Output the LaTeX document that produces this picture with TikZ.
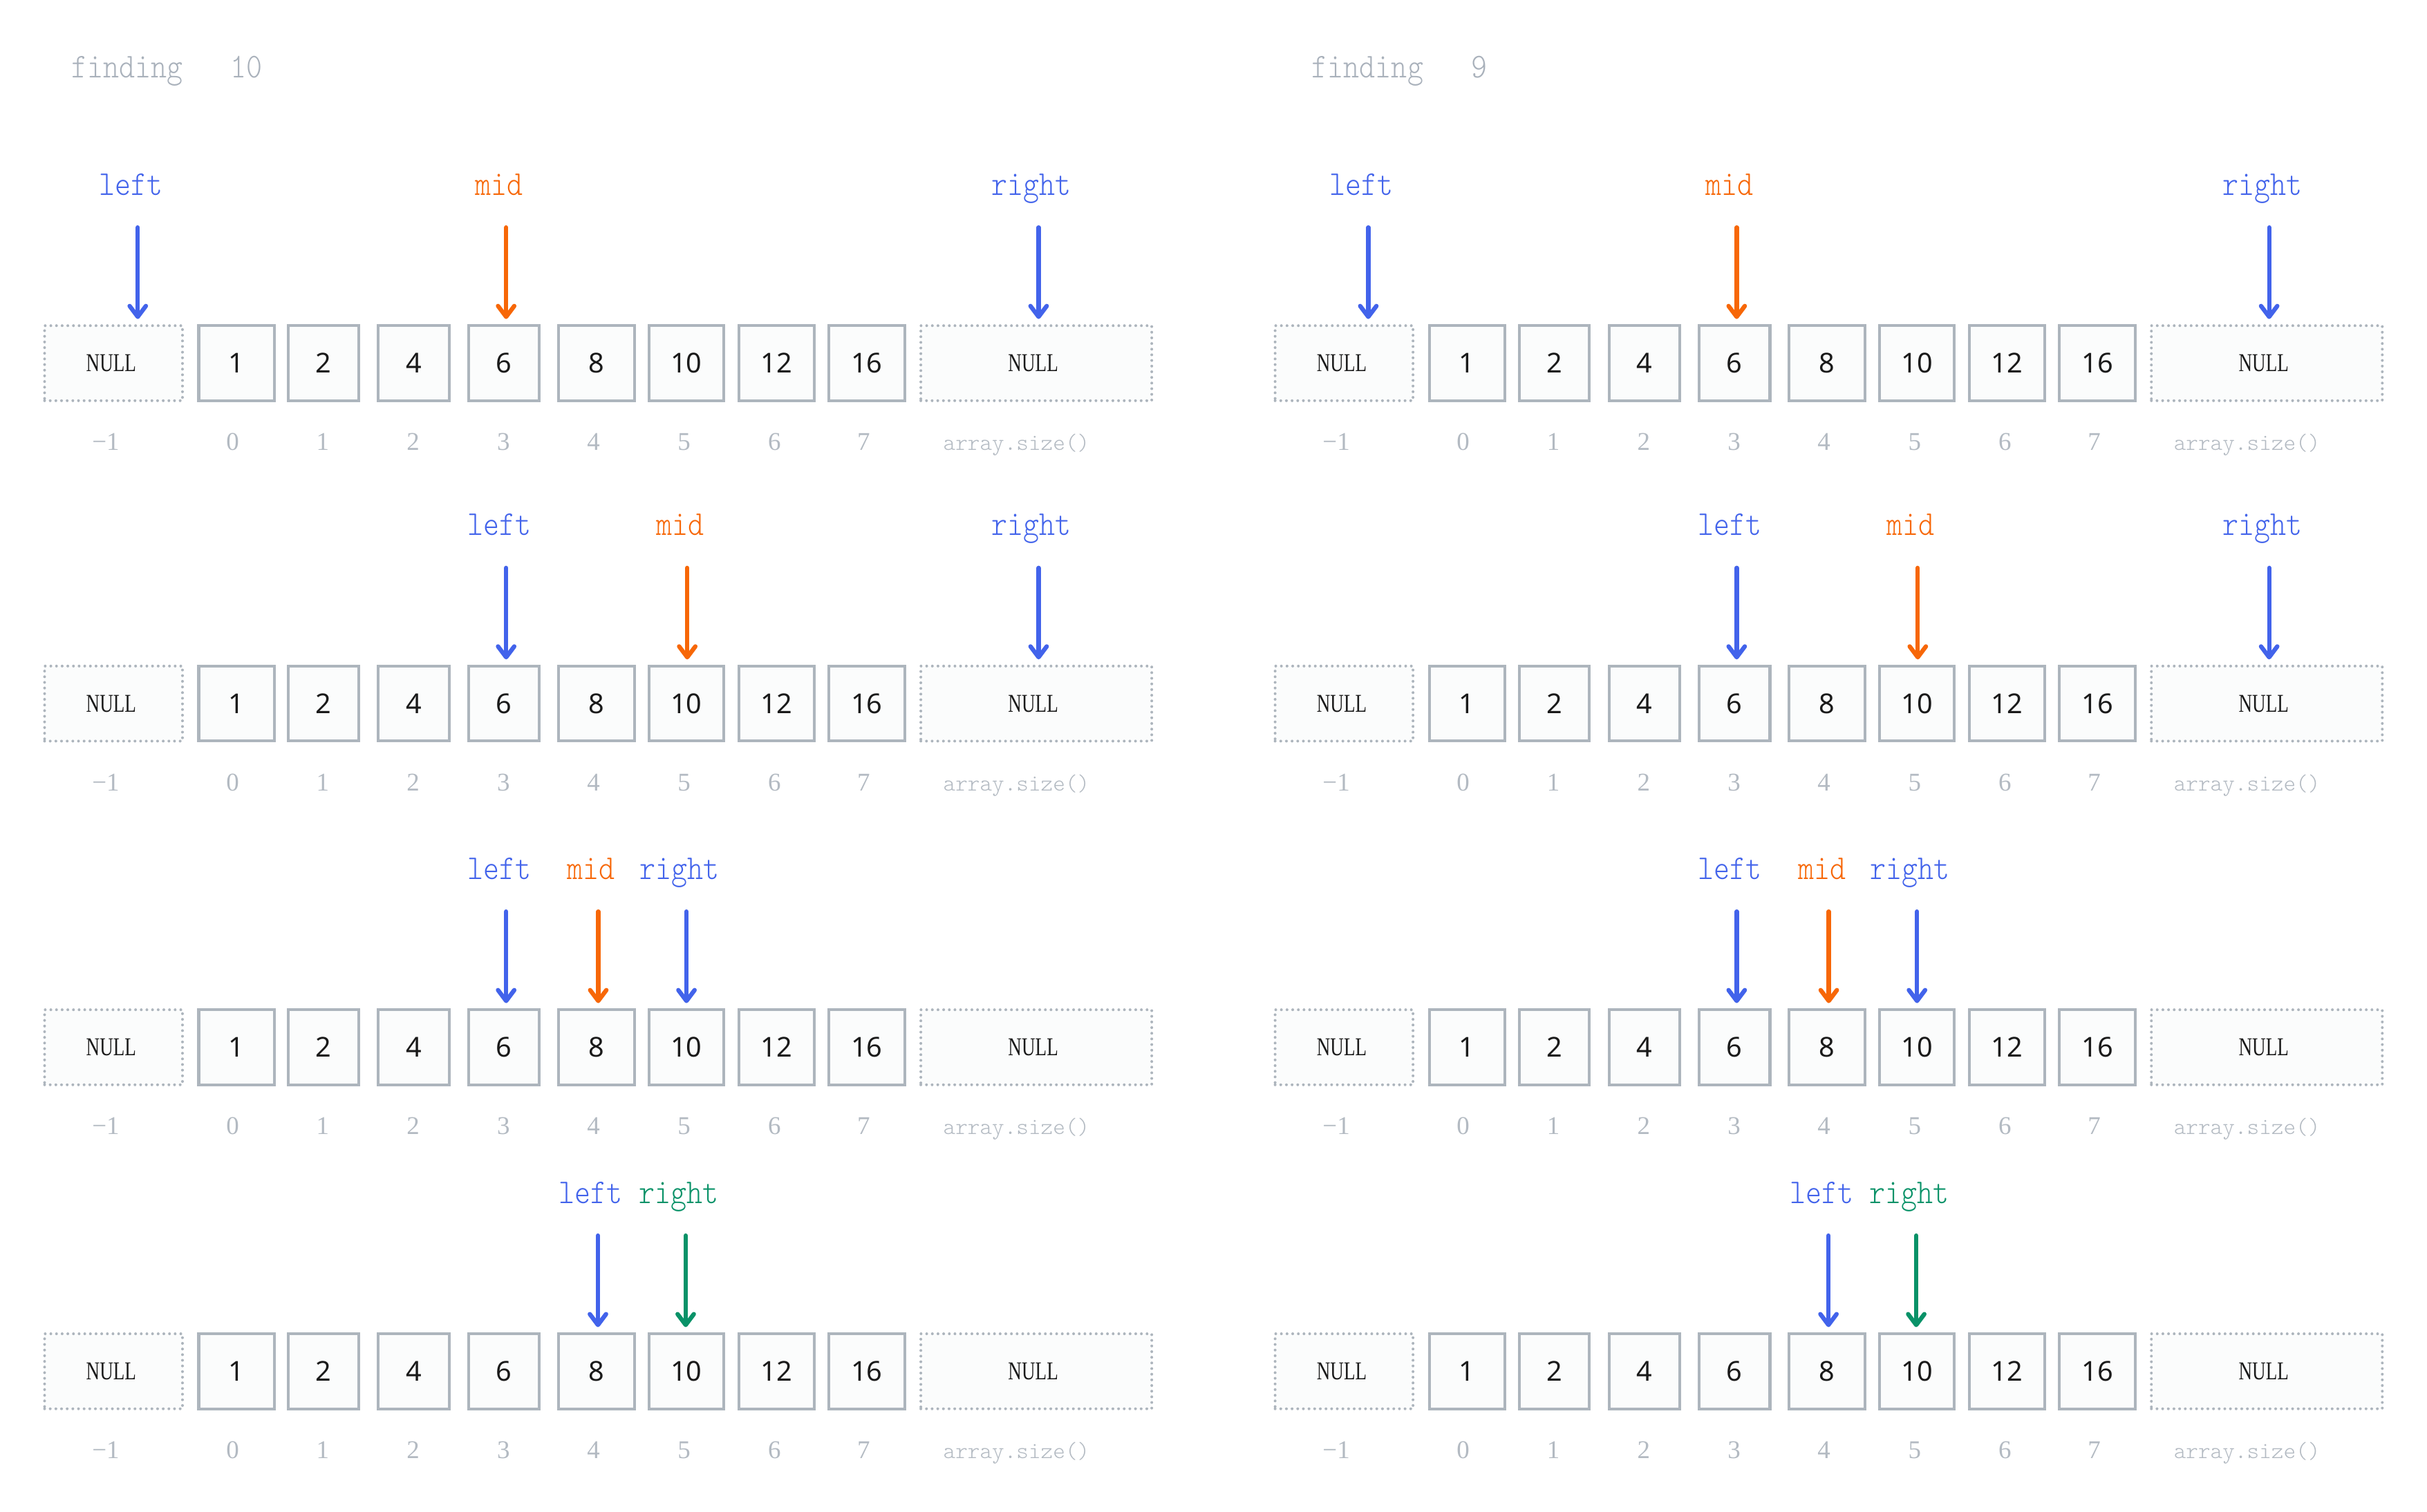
\documentclass[tikz,border=0pt]{standalone}
\usepackage{fontspec}
\usetikzlibrary{arrows.meta}
\newfontfamily\lblfnt{lmmonolt10-regular.otf}[FakeStretch=0.87]
\newfontfamily\szfnt{lmmonolt10-regular.otf}
\newfontfamily\cellfnt{Noto Sans}
\newfontfamily\nulfnt{Liberation Serif}[FakeStretch=0.73]
\newfontfamily\idxfnt{Liberation Serif}
\definecolor{gr}{HTML}{ADB5BD}
\definecolor{idxc}{HTML}{B3BAC2}
\definecolor{ttl}{HTML}{A9B1BB}
\definecolor{cellfill}{HTML}{FBFCFC}
\definecolor{bl}{HTML}{4263EB}
\definecolor{og}{HTML}{F76707}
\definecolor{gn}{HTML}{099268}
\definecolor{ink}{HTML}{1A1A1A}
\tikzset{
  cellbox/.style={draw=gr, line width=1.8pt, fill=cellfill, minimum height=48.5pt, inner sep=0pt,
    text=ink, font=\fontsize{17.7}{20}\cellfnt},
  nullbox/.style={draw=gr, line width=1.8pt, dash pattern=on 0pt off 3.65pt, line cap=round,
    fill=cellfill, minimum height=48.5pt, inner sep=0pt, text=ink, font=\fontsize{16.6}{18}\nulfnt},
  idx/.style={anchor=base, inner sep=0pt, text=idxc, font=\fontsize{16.5}{18}\idxfnt},
  szlbl/.style={anchor=base, inner sep=0pt, text=idxc, font=\fontsize{15}{17}\szfnt},
  lbl/.style={anchor=base, inner sep=0pt, font=\fontsize{22.5}{24}\lblfnt},
  ttlstyle/.style={anchor=base west, inner sep=0pt, text=ttl, font=\fontsize{22.5}{24}\lblfnt},
  ptr/.style={line width=2.8pt, line cap=round, -{Straight Barb[round, length=7pt, width=10.5pt]}}
}
% one array row, drawn relative to its top edge
\newcommand\arrayrow[1]{%
  \node[nullbox, minimum width=89.1pt] (#1n0) at (73.35,25.2) {\hspace*{-3pt}NULL};
  \foreach \cx/\w/\v/\k in {152.75/48.7/1/1, 209.15/45.5/2/2, 267.35/45.7/4/3, 325.6/45.8/6/4,
      385.25/49.1/8/5, 443.4/48.4/10/6, 501.65/48.9/12/7, 560/49/16/8}
    {\node[cellbox, minimum width=\w pt] (#1c\k) at (\cx,25.2) {\v};}
  \node[nullbox, minimum width=149.2pt] (#1n9) at (669.5,25.2) {\hspace*{-4pt}NULL};
  \foreach \ix/\t/\k in {68.3/{−1}/0, 150.3/0/1, 208.5/1/2, 266.9/2/3, 325.3/3/4, 383.4/4/5,
      442/5/6, 500.3/6/7, 558/7/8}
    {\node[idx] (#1i\k) at (\ix,81.6) {\t};}
  \node[szlbl] (#1i9) at (656.7,81.6) {array.size()};
}
% pointer: #1 row prefix, #2 x, #3 colour, #4 text, #5 target node suffix, #6 id
\newcommand\pointer[6]{%
  \node[lbl, text=#3] (#1l#6) at (#2-4.5,-83.4) {#4};
  \coordinate (#1s#6) at (#2,-62.5);
  \draw[ptr, #3] (#1s#6) -- ([yshift=3.4pt]#1#5.north -| #1s#6);
}
\newcommand\panel[2]{%
  \begin{scope}[shift={(#2,209.5)}]
    \arrayrow{#1a}
    \pointer{#1a}{89}{bl}{left}{n0}{L}
    \pointer{#1a}{327}{og}{mid}{c4}{M}
    \pointer{#1a}{671}{bl}{right}{n9}{R}
  \end{scope}
  \begin{scope}[shift={(#2,429.5)}]
    \arrayrow{#1b}
    \pointer{#1b}{327}{bl}{left}{c4}{L}
    \pointer{#1b}{444}{og}{mid}{c6}{M}
    \pointer{#1b}{671}{bl}{right}{n9}{R}
  \end{scope}
  \begin{scope}[shift={(#2,651.6)}]
    \arrayrow{#1c}
    \pointer{#1c}{327}{bl}{left}{c4}{L}
    \pointer{#1c}{386.5}{og}{mid}{c5}{M}
    \pointer{#1c}{443.5}{bl}{right}{c6}{R}
  \end{scope}
  \begin{scope}[shift={(#2,861)}]
    \arrayrow{#1d}
    \pointer{#1d}{386.3}{bl}{left}{c5}{L}
    \pointer{#1d}{443}{gn}{right}{c6}{R}
  \end{scope}
}
\begin{document}
\begin{tikzpicture}[x=1pt, y=-1pt]
  \useasboundingbox (0,0) rectangle (1568,977);
  \fill[white] (0,0) rectangle (1568,977);
  \node[ttlstyle] (t1) at (46.1,50.3) {finding~~~10};
  \node[ttlstyle] (t2) at (847.4,50.3) {finding~~~9};
  \panel{p}{0}
  \panel{q}{795}
\end{tikzpicture}
\end{document}
